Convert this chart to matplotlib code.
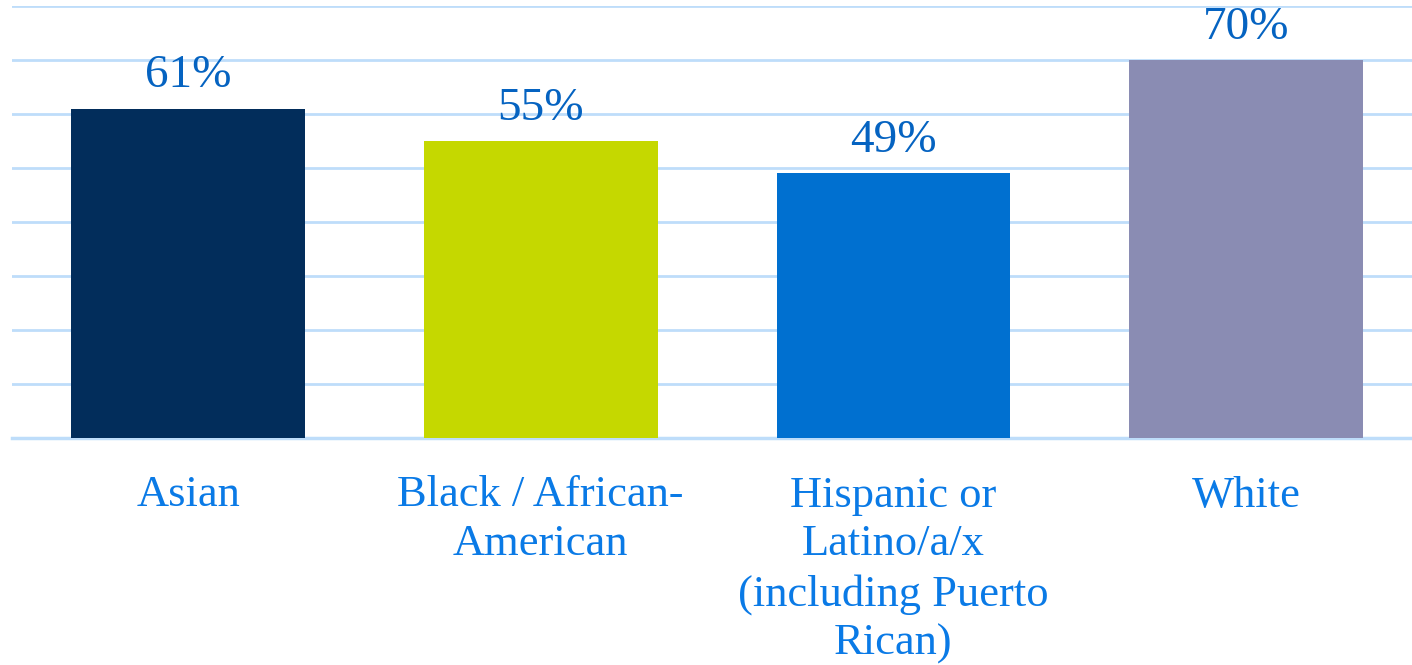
import numpy as np
import matplotlib.pyplot as plt

# share of each group, percent
groups = ["Asian", "Black / African-\nAmerican",
          "Hispanic or\nLatino/a/x\n(including Puerto\nRican)", "White"]
values = [61, 55, 49, 70]
colors = ["#022D5B", "#C5D800", "#0070D0", "#8A8CB3"]

plt.rcParams['font.family'] = ['Liberation Serif', 'DejaVu Serif']

fig = plt.figure(figsize=(14.12, 6.65), dpi=100)
ax = fig.add_axes([12/1412, (665-438)/665, 1400/1412, 432/665])

x = np.arange(len(groups))
bars = ax.bar(x, values, width=0.663, color=colors, zorder=3)

# value labels above bars
for xi, v in zip(x, values):
    ax.annotate(f"{v}%", (xi, v), xytext=(0, 8), textcoords="offset points",
                ha="center", va="bottom", fontsize=34, color="#0563C1",
                annotation_clip=False)

ax.set_xlim(-0.499, 3.47)
ax.set_ylim(0, 80)
ax.set_yticks(np.arange(0, 81, 10))
ax.yaxis.grid(True, color="#BEDDFA", linewidth=2, zorder=0)
ax.set_yticklabels([])
ax.tick_params(axis="both", length=0)

ax.set_xticks(x)
ax.set_xticklabels(groups, fontsize=32, color="#0A7AE6", linespacing=1.29)
ax.tick_params(axis="x", pad=27)

for s in ["top", "right", "left"]:
    ax.spines[s].set_visible(False)
ax.spines["bottom"].set_color("#BEDDFA")
ax.spines["bottom"].set_linewidth(2.5)

fig.savefig("out.png", dpi=100)
